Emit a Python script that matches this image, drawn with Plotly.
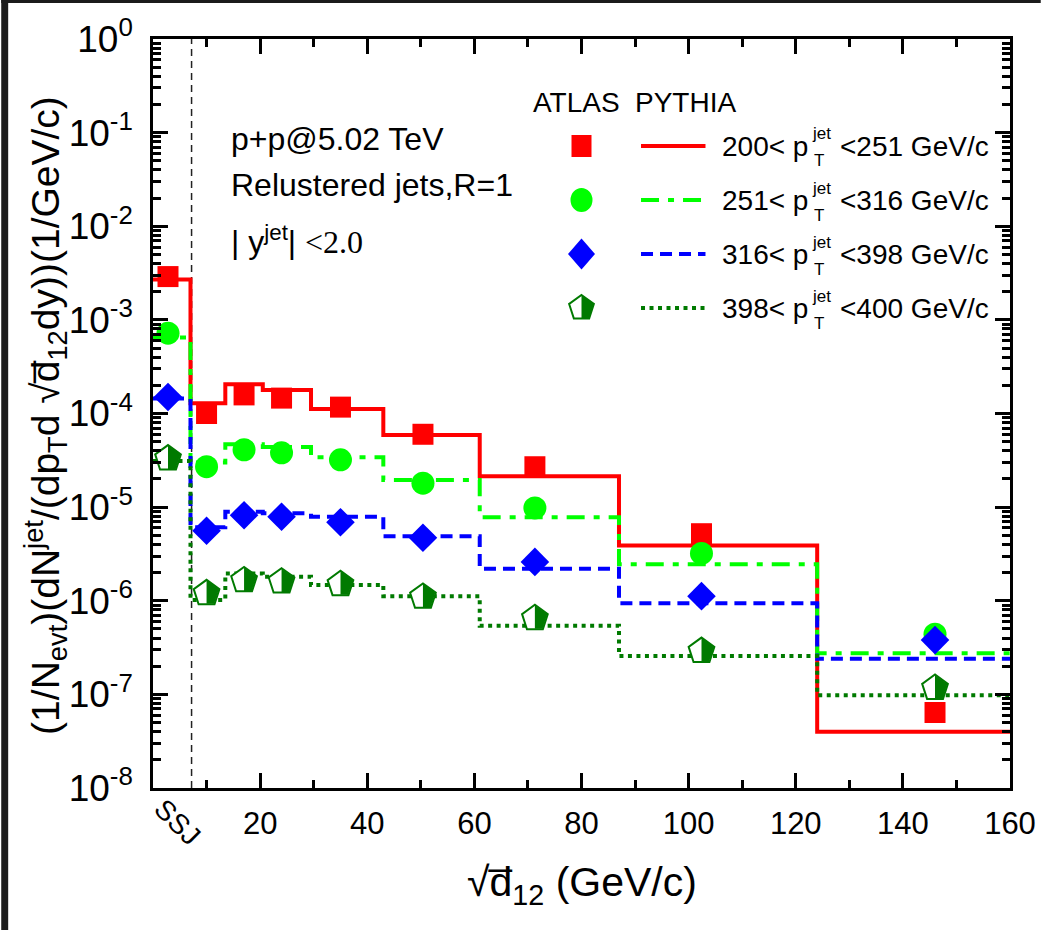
import plotly.graph_objects as go

# ---- data -------------------------------------------------------------
# PYTHIA histogram bin edges in sqrt(d12) (first bin = single sub-jet, SSJ)
bin_edges = [0, 7, 13.5, 20.5, 29.5, 43, 61, 87, 124, 160]
# ATLAS points: sqrt(d12) positions
sqrt_d12 = [2.8, 10, 17, 24, 35, 50.4, 71.3, 102.4, 146]
ssj_boundary = 7.2

atlas_200_251 = [2.9e-3, 1.0e-4, 1.58e-4, 1.46e-4, 1.17e-4, 6.0e-5, 2.7e-5, 5.2e-6, 6.4e-8]
pythia_200_251 = [2.7e-3, 1.29e-4, 2.05e-4, 1.78e-4, 1.12e-4, 5.9e-5, 2.14e-5, 3.9e-6, 4.0e-8]

atlas_251_316 = [7.2e-4, 2.7e-5, 4.1e-5, 3.8e-5, 3.2e-5, 1.8e-5, 9.8e-6, 3.2e-6, 4.4e-7]
pythia_251_316 = [6.5e-4, 3.0e-5, 4.7e-5, 4.4e-5, 3.4e-5, 1.95e-5, 7.8e-6, 2.46e-6, 2.75e-7]

atlas_316_398 = [1.5e-4, 5.6e-6, 8.2e-6, 7.9e-6, 6.9e-6, 4.7e-6, 2.6e-6, 1.12e-6, 3.8e-7]
pythia_316_398 = [1.45e-4, 6.1e-6, 8.9e-6, 8.6e-6, 7.9e-6, 4.9e-6, 2.2e-6, 9.4e-7, 2.4e-7]

atlas_398_400 = [3.3e-5, 1.2e-6, 1.65e-6, 1.6e-6, 1.5e-6, 1.1e-6, 6.5e-7, 2.9e-7, 1.17e-7]
pythia_398_400 = [3.1e-5, 1.02e-6, 1.95e-6, 1.8e-6, 1.47e-6, 1.12e-6, 5.4e-7, 2.57e-7, 9.8e-8]

pt_low = ["200", "251", "316", "398"]
pt_high = ["251", "316", "398", "400"]

x_tick_vals = [20, 40, 60, 80, 100, 120, 140, 160]
y_tick_exponents = [-8, -7, -6, -5, -4, -3, -2, -1, 0]

# ---- styling ----------------------------------------------------------
SANS = "Liberation Sans, Arial, sans-serif"
SERIF = "Liberation Serif, Times New Roman, serif"

RED, LIME, BLUE, DKGREEN = "#ff0000", "#00ff00", "#0000ff", "#007a00"

W, H = 1048, 930
L, R, T, B = 153, 1017, 39, 788   # plot-area frame in page pixels


def px(x):
    return (x - L) / (R - L)


def py(y):
    return (B - y) / (B - T)


styles = [
    dict(color=RED, dash="solid", symbol="square", size=21),
    dict(color=LIME, dash="18px,9px,6px,9px", symbol="circle", size=23),
    dict(color=BLUE, dash="12px,7px", symbol="diamond", size=22),
    dict(color=DKGREEN, dash="4px,4.5px", symbol="pentagon", size=27),
]
atlas = [atlas_200_251, atlas_251_316, atlas_316_398, atlas_398_400]
pythia = [pythia_200_251, pythia_251_316, pythia_316_398, pythia_398_400]

fig = go.Figure()

for st, p_vals in zip(styles, pythia):
    # PYTHIA step histogram
    fig.add_trace(go.Scatter(
        x=bin_edges, y=p_vals + [p_vals[-1]], mode="lines",
        line=dict(color=st["color"], width=4, dash=st["dash"], shape="hv"),
        showlegend=False, hoverinfo="skip"))

for st, a_vals in zip(styles, atlas):
    if st["symbol"] == "pentagon":
        marker = dict(symbol="pentagon", size=st["size"], color="white",
                      line=dict(color=st["color"], width=2))
    else:
        marker = dict(symbol=st["symbol"], size=st["size"], color=st["color"],
                      line=dict(width=0))
    fig.add_trace(go.Scatter(x=sqrt_d12, y=a_vals, mode="markers",
                             marker=marker, showlegend=False))

# pentagon geometry (pixels, y pointing up)
r5 = 13.0
pent = [(0, r5), (0.951 * r5, 0.309 * r5), (0.588 * r5, -0.809 * r5),
        (-0.588 * r5, -0.809 * r5), (-0.951 * r5, 0.309 * r5)]
half_pent = [pent[0], pent[1], pent[2], (0, -0.809 * r5)]


def path_of(pts):
    return "M" + " L".join(f"{x:.2f},{y:.2f}" for x, y in pts) + " Z"


shapes = []
# right half of the 398-400 pentagons is filled
for xv, yv in zip(sqrt_d12, atlas_398_400):
    shapes.append(dict(type="path", xref="x", yref="y", xsizemode="pixel",
                       ysizemode="pixel", xanchor=xv, yanchor=yv,
                       path=path_of(half_pent), fillcolor=DKGREEN,
                       line=dict(width=0), layer="above"))

# SSJ boundary
shapes.append(dict(type="line", xref="x", yref="paper", x0=ssj_boundary,
                   x1=ssj_boundary, y0=0, y1=1, layer="below",
                   line=dict(color="#222222", width=1.5, dash="7px,5px")))

# ---- legend (two columns: ATLAS symbol, PYTHIA line) -------------------
annotations = []
row_y = [146, 200, 254, 308]
mx = 585
for i, (st, ry) in enumerate(zip(styles, row_y)):
    xa, ya = px(mx), py(ry)
    common = dict(xref="paper", yref="paper", xsizemode="pixel",
                  ysizemode="pixel", xanchor=xa, yanchor=ya)
    if st["symbol"] == "square":
        shapes.append(dict(type="rect", x0=-10, x1=10, y0=-11, y1=11,
                           fillcolor=st["color"], line=dict(width=0), **common))
    elif st["symbol"] == "circle":
        shapes.append(dict(type="circle", x0=-11, x1=11, y0=-12, y1=12,
                           fillcolor=st["color"], line=dict(width=0), **common))
    elif st["symbol"] == "diamond":
        shapes.append(dict(type="path", path="M-13.5,0 L0,15.5 L13.5,0 L0,-15.5 Z",
                           fillcolor=st["color"], line=dict(width=0), **common))
    else:
        shapes.append(dict(type="path", path=path_of(pent), fillcolor="white",
                           line=dict(color=st["color"], width=2), **common))
        shapes.append(dict(type="path", path=path_of(half_pent),
                           fillcolor=st["color"], line=dict(width=0), **common))
    shapes.append(dict(type="line", xref="paper", yref="paper",
                       x0=px(645), x1=px(710), y0=ya, y1=ya,
                       line=dict(color=st["color"], width=4, dash=st["dash"])))
    txt = dict(xref="paper", yref="paper", showarrow=False, yanchor="middle",
               font=dict(family=SANS, size=28, color="black"))
    annotations.append(dict(text=f"{pt_low[i]}&lt; p", x=px(815), y=ya,
                            xanchor="right", **txt))
    annotations.append(dict(text=f"&lt;{pt_high[i]} GeV/c", x=px(844), y=ya,
                            xanchor="left", **txt))
    small = dict(xref="paper", yref="paper", showarrow=False, yanchor="middle",
                 xanchor="left", font=dict(family=SANS, size=17, color="black"))
    annotations.append(dict(text="jet", x=px(815), y=py(ry - 12), **small))
    annotations.append(dict(text="T", x=px(817), y=py(ry + 15), **small))

hdr = dict(xref="paper", yref="paper", showarrow=False, yanchor="middle",
           font=dict(family=SANS, size=28, color="black"))
annotations.append(dict(text="ATLAS", x=px(580), y=py(102), xanchor="center", **hdr))
annotations.append(dict(text="PYTHIA", x=px(690), y=py(102), xanchor="center", **hdr))

# ---- collision-system labels -------------------------------------------
info = dict(xref="paper", yref="paper", showarrow=False, xanchor="left",
            yanchor="middle", font=dict(family=SANS, size=32, color="black"))
annotations.append(dict(text="p+p@5.02 TeV", x=px(230), y=py(139), **info))
annotations.append(dict(text="Relustered jets,R=1", x=px(230), y=py(185), **info))
annotations.append(dict(
    text=("| y<sup>jet</sup>| "
          f"<span style='font-family:{SERIF}'>&lt;2.0</span>"),
    x=px(230), y=py(240), **info))

# SSJ category label under the axis
annotations.append(dict(text="SSJ", xref="paper", yref="paper", x=px(178),
                        y=py(822), showarrow=False, textangle=45,
                        xanchor="center", yanchor="middle",
                        font=dict(family=SANS, size=28, color="black")))

# axis titles
annotations.append(dict(text="√d\u0305<sub>12</sub> (GeV/c)", xref="paper",
                        yref="paper", x=px(585), y=py(885), showarrow=False,
                        xanchor="center", yanchor="middle",
                        font=dict(family=SANS, size=41, color="black")))
annotations.append(dict(
    text=("(1/N<sub>evt</sub>)(dN<sup>jet</sup>/(dp<sub>T</sub>d √d\u0305<sub>12</sub>dy))"
          "(1/GeV/c)"),
    xref="paper", yref="paper", x=px(45), y=py(415), showarrow=False,
    textangle=-90, xanchor="center", yanchor="middle",
    font=dict(family=SANS, size=39, color="black")))

# dark frame strips along the top and left page edges (kept inside the page)
shapes.append(dict(type="rect", xref="paper", yref="paper", x0=px(0), x1=px(7),
                   y0=py(H), y1=py(0), fillcolor="#1b1b1b", line=dict(width=0),
                   layer="above"))
shapes.append(dict(type="rect", xref="paper", yref="paper", x0=px(0), x1=px(W),
                   y0=py(3), y1=py(0), fillcolor="#1b1b1b", line=dict(width=0),
                   layer="above"))

axis_common = dict(showline=True, linecolor="black", linewidth=2.5,
                   mirror="ticks", ticks="inside", ticklen=15, tickwidth=2.5,
                   tickcolor="black", showgrid=False, zeroline=False)

fig.update_layout(
    width=W, height=H,
    margin=dict(l=L, r=W - R, t=T, b=H - B),
    paper_bgcolor="white", plot_bgcolor="white",
    showlegend=False,
    xaxis=dict(range=[0, 160], tickmode="array", tickvals=x_tick_vals,
               ticktext=[str(v) for v in x_tick_vals],
               tickfont=dict(family=SANS, size=31, color="black"),
               ticklabelstandoff=6,
               minor=dict(ticks="inside", ticklen=8, tickwidth=2.5,
                          tickcolor="black", tick0=0, dtick=10),
               **axis_common),
    yaxis=dict(type="log", range=[-8, 0], tickmode="array",
               tickvals=[10.0 ** e for e in y_tick_exponents],
               ticktext=[f"10<sup>{e}</sup>" for e in y_tick_exponents],
               tickfont=dict(family=SANS, size=37, color="black"),
               ticklabelstandoff=10,
               minor=dict(ticks="inside", ticklen=8, tickwidth=2.5,
                          tickcolor="black", dtick="D1"),
               **axis_common),
    shapes=shapes,
    annotations=annotations,
)

fig.write_html("out.html")
